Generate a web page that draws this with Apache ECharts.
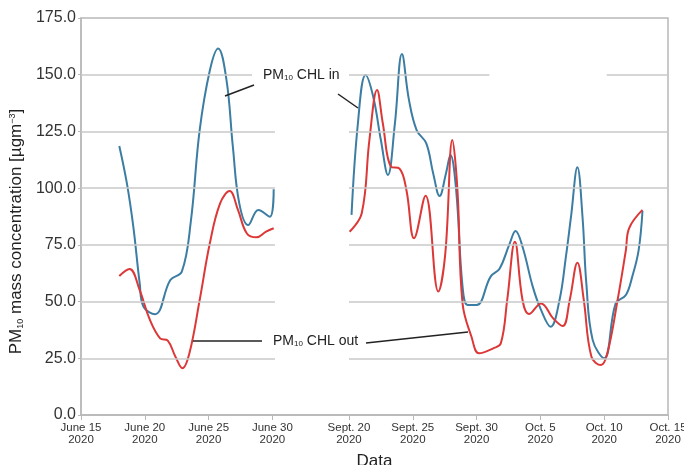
<!DOCTYPE html>
<html>
<head>
<meta charset="utf-8">
<script src="https://cdn.jsdelivr.net/npm/echarts@6/dist/echarts.min.js"></script>
<style>
  html, body { margin: 0; padding: 0; background: #fff; }
  #main { width: 684px; height: 465px; }
</style>
</head>
<body>
<div id="main"></div>
<script>
// x positions on a broken axis: June part = days since June 15,
// autumn part = days since Sept. 20 (placed after a 6-day gap)
const AUTUMN_OFFSET = 21;

const xTicks = [0, 5, 10, 15, 21, 26, 31, 36, 41, 46];
const xTickLabels = ['June 15\n2020', 'June 20\n2020', 'June 25\n2020', 'June 30\n2020',
    'Sept. 20\n2020', 'Sept. 25\n2020', 'Sept. 30\n2020', 'Oct. 5\n2020', 'Oct. 10\n2020', 'Oct. 15\n2020'];

// PM10 CHL in, June
const inJuneDays = [3.0, 3.6, 4.1, 4.6, 4.9, 5.8, 7.0, 7.9, 8.6, 9.3, 10.1, 10.75, 11.4, 11.9, 12.4, 13.1, 13.9, 14.8, 15.1];
const inJuneVals = [118.6, 102, 83, 58, 47.7, 44.4, 59.5, 63.2, 85, 125.6, 152, 161.6, 147.7, 118.3, 93.4, 83.7, 90.4, 87.4, 99.5];

// PM10 CHL out, June
const outJuneDays = [3.0, 3.8, 4.6, 5.4, 6.2, 6.8, 7.4, 7.95, 8.5, 9.3, 10.1, 10.9, 11.65, 12.3, 13.0, 13.75, 14.5, 15.1];
const outJuneVals = [61.3, 64.4, 55, 41.9, 33.8, 32.8, 25.7, 20.6, 27.3, 50.7, 75.8, 93.3, 98.7, 90.4, 80, 78.3, 80.8, 82.3];

// PM10 CHL in, Sept./Oct.
const inAutDays = [0.2, 0.7, 1.3, 1.9, 2.5, 3.05, 3.6, 4.15, 4.7, 5.3, 6.05, 6.6, 7.1, 7.6, 7.95, 8.4, 8.9, 9.3, 10.0,
    11.1, 11.8, 12.6, 13.05, 13.6, 14.4, 15.05, 15.8, 16.5, 17.0, 17.4, 17.9, 18.3, 18.6, 19.1, 20.0, 20.9, 21.7, 22.2, 22.7, 23.0];
const inAutVals = [88.2, 128.6, 149.9, 140.3, 121.2, 105.8, 128.6, 159.1, 138.9, 125.6, 119.8, 106.5, 96.5, 106.5, 114.6, 99, 56.6, 48.5, 48.5,
    61, 64.5, 75.7, 81.1, 74.2, 56.6, 46.3, 38.9, 50.7, 69.8, 87.4, 109.2, 87.4, 58, 33, 25, 49.2, 52.9, 61, 72.7, 89.9];

// PM10 CHL out, Sept./Oct.
const outAutDays = [0.05, 1.0, 1.6, 2.2, 2.65, 3.3, 3.95, 4.5, 5.1, 6.0, 7.0, 7.55, 8.1, 8.5, 8.9, 9.6, 10.2, 11.3, 11.9,
    12.4, 13.0, 13.6, 14.1, 15.05, 16.0, 16.75, 17.3, 17.9, 18.4, 19.0, 19.75, 20.25, 21.05, 21.7, 21.95, 23.0];
const outAutVals = [80.8, 88.9, 121.2, 143.3, 128.6, 109.4, 108.7, 99.2, 77.9, 96.7, 54.4, 71.3, 121.2, 99.2, 49.2, 34.5, 27.2, 29.4, 31.6,
    50.7, 76.4, 50.7, 44.5, 49.2, 42.6, 39.2, 50.7, 67.1, 50.7, 25.7, 22, 27.2, 50.7, 72.7, 82.3, 90.4];

// horizontal reference lines [level, from, to] in axis units (they are broken in the original)
const gridSegments = [
    [25, 0, 15.2], [50, 0, 15.2], [75, 0, 15.2], [100, 0, 15.2], [125, 0, 15.2], [150, 0, 13.4],
    [25, 21, 46], [50, 21, 46], [75, 21, 46], [100, 21, 46], [125, 21, 46], [150, 21, 32], [150, 41.2, 46]
];

const BLUE = '#3c7da3';
const RED = '#dc3838';
const FONT = '"Liberation Sans", Arial, Helvetica, sans-serif';

function pairs(days, vals, offset) {
    return days.map((d, i) => [d + offset, vals[i]]);
}

function lineSeries(data, color) {
    return {
        type: 'line',
        data: data,
        smooth: 0.4,
        showSymbol: false,
        silent: true,
        lineStyle: { color: color, width: 2 },
        z: 3
    };
}

const chart = echarts.init(document.getElementById('main'));

const sub = { fontSize: 8, verticalAlign: 'bottom', fill: '#222', fontFamily: FONT };
const big = { fontSize: 14, fill: '#222', fontFamily: FONT };

const option = {
    animation: false,
    textStyle: { fontFamily: FONT },
    grid: {
        left: 81, right: 16, top: 18, bottom: 50,
        outerBoundsMode: 'none',
        containLabel: false,
        show: true, borderColor: '#b8b8b8', borderWidth: 1.5
    },
    xAxis: {
        type: 'value',
        min: 0,
        max: 46,
        name: 'Data',
        nameLocation: 'middle',
        nameGap: 38,
        nameTextStyle: { fontSize: 17, color: '#222', verticalAlign: 'top' },
        axisLine: { lineStyle: { color: '#b8b8b8', width: 1.5 } },
        axisTick: { customValues: xTicks, length: 5, lineStyle: { color: '#b8b8b8' } },
        axisLabel: {
            customValues: xTicks,
            fontSize: 11.5,
            lineHeight: 12,
            color: '#333',
            margin: 7,
            formatter: v => xTickLabels[xTicks.indexOf(v)] || ''
        },
        splitLine: { show: false }
    },
    yAxis: {
        type: 'value',
        min: 0,
        max: 175,
        interval: 25,
        name: '{a|PM}{s|10}{a| mass concentration [µgm}{p|−3}{a|]}',
        nameLocation: 'middle',
        nameGap: 43,
        nameTextStyle: {
            padding: [0, 30, 0, 0],
            rich: {
                a: { fontSize: 17, color: '#222' },
                s: { fontSize: 9, color: '#222', verticalAlign: 'bottom' },
                p: { fontSize: 9, color: '#222', verticalAlign: 'top' }
            }
        },
        axisLine: { show: true, lineStyle: { color: '#b8b8b8', width: 1.5 } },
        axisTick: { show: true, length: 3, lineStyle: { color: '#b8b8b8' } },
        axisLabel: { fontSize: 16, color: '#333', margin: 5, formatter: v => v.toFixed(1) },
        splitLine: { show: false }
    },
    series: [
        Object.assign(lineSeries([], '#000'), {
            markLine: {
                silent: true,
                symbol: 'none',
                label: { show: false },
                lineStyle: { color: '#c9c9c9', width: 1.5, type: 'solid' },
                data: gridSegments.map(s => [{ coord: [s[1], s[0]] }, { coord: [s[2], s[0]] }])
            },
            z: 1
        }),
        lineSeries(pairs(inJuneDays, inJuneVals, 0), BLUE),
        lineSeries(pairs(inAutDays, inAutVals, AUTUMN_OFFSET), BLUE),
        lineSeries(pairs(outJuneDays, outJuneVals, 0), RED),
        lineSeries(pairs(outAutDays, outAutVals, AUTUMN_OFFSET), RED)
    ],
    graphic: [
        { type: 'text', x: 263, y: 68, z: 10,
          style: { text: '{a|PM}{s|10}{a| CHL in}', rich: { a: big, s: sub } } },
        { type: 'line', z: 10, shape: { x1: 254, y1: 85, x2: 225, y2: 96 }, style: { stroke: '#222', lineWidth: 1.5 } },
        { type: 'line', z: 10, shape: { x1: 338, y1: 94, x2: 358, y2: 108 }, style: { stroke: '#222', lineWidth: 1.5 } },
        { type: 'text', x: 273, y: 334, z: 10,
          style: { text: '{a|PM}{s|10}{a| CHL out}', rich: { a: big, s: sub } } },
        { type: 'line', z: 10, shape: { x1: 193, y1: 341, x2: 262, y2: 341 }, style: { stroke: '#222', lineWidth: 1.5 } },
        { type: 'line', z: 10, shape: { x1: 366, y1: 343, x2: 468, y2: 332 }, style: { stroke: '#222', lineWidth: 1.5 } }
    ]
};

chart.setOption(option);
</script>
</body>
</html>
